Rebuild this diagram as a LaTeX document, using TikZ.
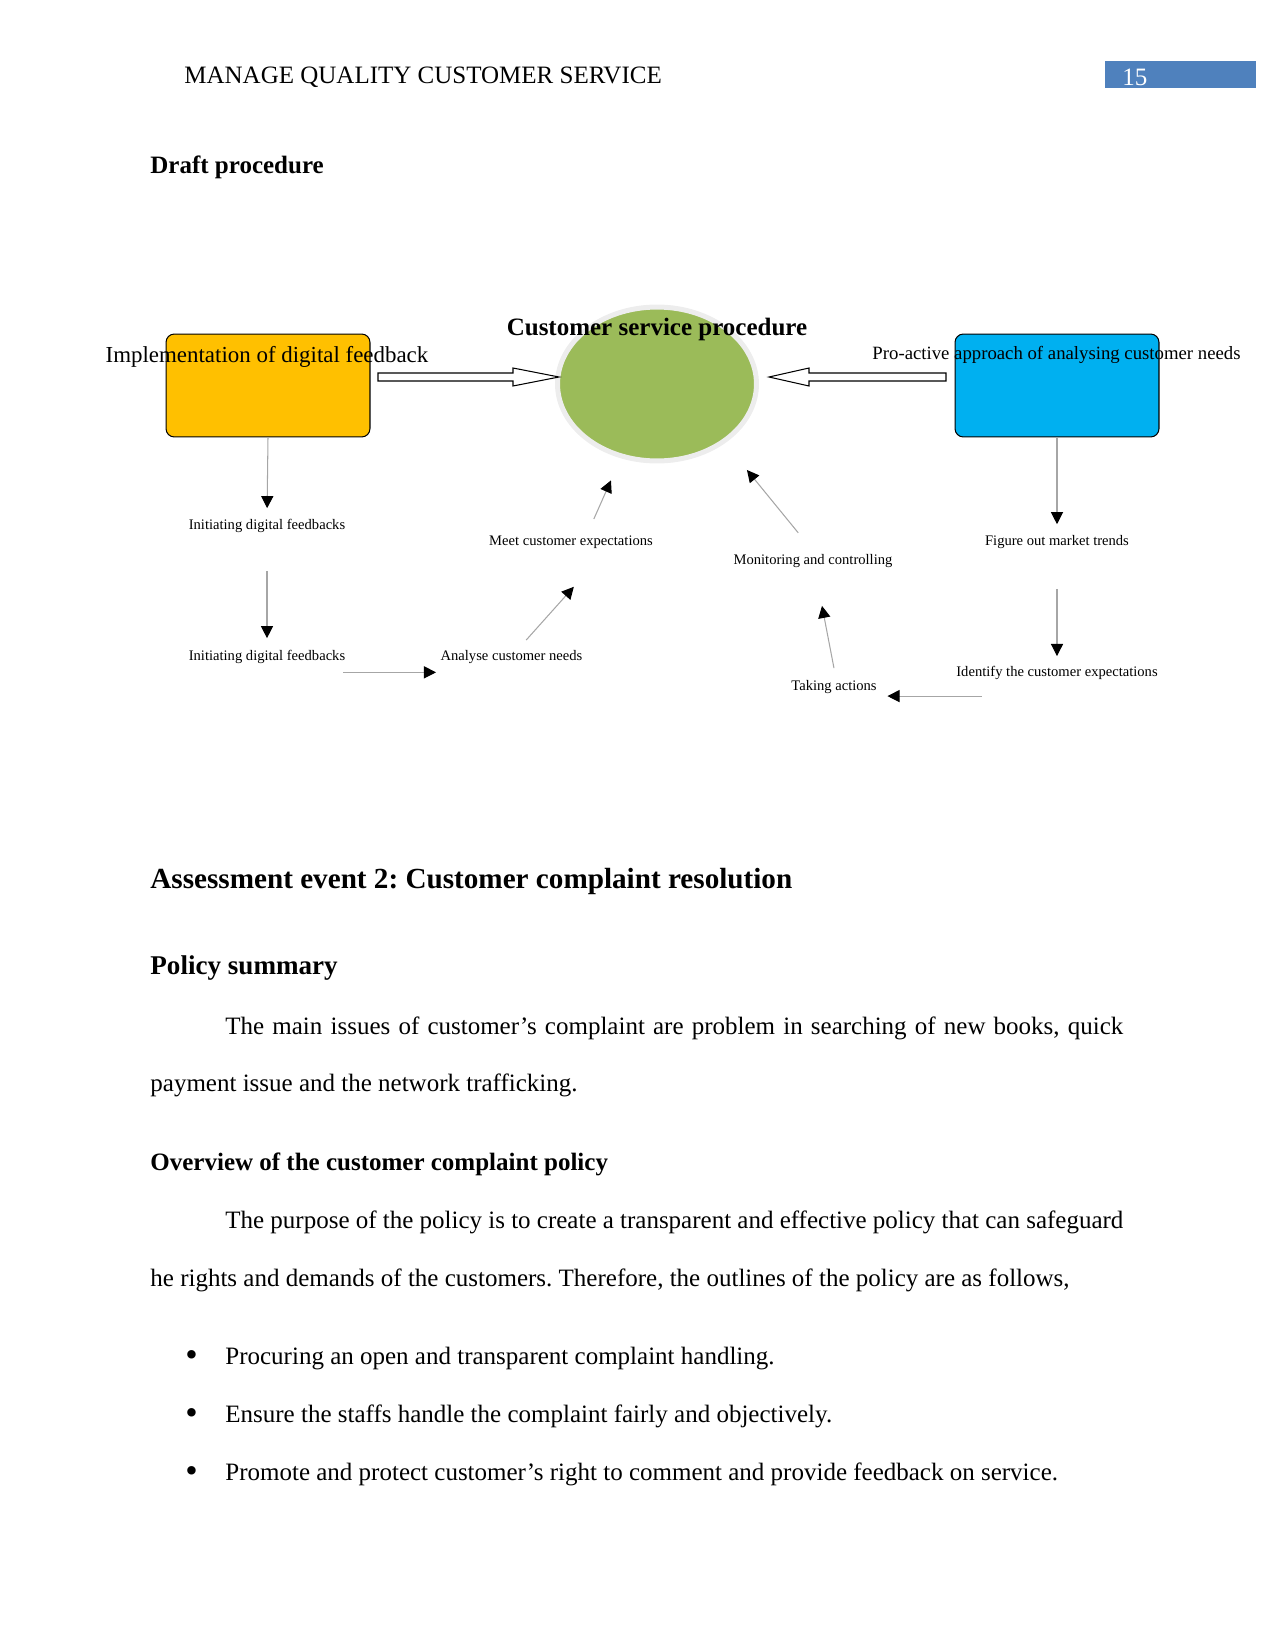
\documentclass[tikz,border=0pt]{standalone}
\usepackage{fontspec}
\setmainfont{Liberation Serif}
\usetikzlibrary{arrows.meta, positioning, shapes.geometric}
\definecolor{feedyellow}{HTML}{FFC000}
\definecolor{needblue}{HTML}{00B0F0}
\definecolor{procgreen}{HTML}{9BBB59}
\definecolor{pageblue}{HTML}{4F81BD}
\frenchspacing

\begin{document}
\begin{tikzpicture}[x=0.48pt, y=-0.48pt, >={Triangle[length=5.8pt, width=5.8pt, color=black]},
  steplabel/.style={font=\fontsize{7}{8}\selectfont, inner sep=1pt, text height=5.2pt, text depth=1.6pt, yshift=-1.2pt},
  flow/.style={->, black!35, line width=0.5pt},
  block/.style={draw=black, line width=0.5pt, rounded corners=4pt, minimum width=97.9pt, minimum height=49.4pt},
  bodytext/.style={anchor=west, inner sep=0pt, font=\fontsize{12}{14}\selectfont, yshift=-1.2pt},
  fatarrow/.style={draw=black, fill=white, line width=0.5pt}]
  \useasboundingbox (0,0) rectangle (1275,1651);
  \node[bodytext] (runhead) at (184,75) {MANAGE QUALITY CUSTOMER SERVICE};
  \fill[pageblue] (1105,61) rectangle (1256,88);
  \node[bodytext, text=white] (pagenum) at (1122,75) {15};
  \node[bodytext, font=\bfseries\fontsize{12}{14}\selectfont] (draft) at (150,165) {Draft procedure};

  \node[block, fill=feedyellow] (digital) at (268,385.5) {};
  \node[block, fill=needblue] (proactive) at (1057,385.5) {};
  \node[ellipse, draw=black!7, line width=2.4pt, fill=procgreen, inner sep=0pt, minimum width=95.5pt, minimum height=73.9pt] (proc) at (657,384) {};
  \node[font=\fontsize{11}{13}\selectfont, inner sep=0pt] (digitallbl) at (267,356.5) {Implementation of digital feedback};
  \node[font=\fontsize{9}{11}\selectfont, inner sep=0pt] (proactivelbl) at (1056.5,354.5) {Pro-active approach of analysing customer needs};
  \node[font=\bfseries\fontsize{12}{14}\selectfont, inner sep=0pt] (proclbl) at (657,329.5) {Customer service procedure};
  \draw[fatarrow] (378,373) -- (513,373) -- (513,368) -- (559,377) -- (513,386) -- (513,381) -- (378,381) -- cycle;
  \draw[fatarrow] (946,373) -- (809,373) -- (809,368) -- (769,377) -- (809,386) -- (809,381) -- (946,381) -- cycle;

  \node[steplabel] (init1) at (267,523) {Initiating digital feedbacks};
  \node[steplabel] (init2) at (267,654) {Initiating digital feedbacks};
  \node[steplabel] (analyse) at (511.5,654) {Analyse customer needs};
  \node[steplabel] (meet) at (571,539) {Meet customer expectations};
  \node[steplabel] (trends) at (1057,539) {Figure out market trends};
  \node[steplabel] (identify) at (1057,670) {Identify the customer expectations};
  \node[steplabel] (taking) at (834,684) {Taking actions};
  \node[steplabel] (monitor) at (813,558) {Monitoring and controlling};

  \draw[flow, shorten >=3.7pt] (digital.south) -- (init1.north);
  \draw[flow, shorten <=17.2pt, shorten >=4.2pt] (init1.south) -- (init2.north);
  \draw[flow, shorten >=1pt] ([xshift=-2pt, yshift=-3pt]init2.south east) -- ([yshift=-3pt]analyse.south west);
  \draw[flow, shorten <=4.4pt, shorten >=23pt] ([xshift=4.1pt]analyse.north) -- ([xshift=16.7pt]meet.south);
  \draw[flow, shorten <=6.8pt, shorten >=11.6pt] ([xshift=8.2pt]meet.north) -- (proc.244);
  \draw[flow, shorten >=3.7pt] (proactive.south) -- (trends.north);
  \draw[flow, shorten <=18.1pt, shorten >=3.3pt] (trends.south) -- (identify.north);
  \draw[flow, shorten >=4pt] ([xshift=13.4pt]identify.west |- taking.south east) -- (taking.south east);
  \draw[flow, shorten <=4.3pt, shorten >=17.5pt] ([xshift=0.8pt]taking.north) -- ([xshift=1pt]monitor.south);
  \draw[flow, shorten <=11.2pt, shorten >=16.6pt] (monitor.north) -- (proc.-41);

  \node[bodytext, font=\bfseries\fontsize{14}{17}\selectfont] (event) at (150,879) {Assessment event 2: Customer complaint resolution};
  \node[bodytext, font=\bfseries\fontsize{13}{16}\selectfont] (policy) at (150,966) {Policy summary};
  \node[bodytext] (issues1) at (225,1026) {\makebox[431pt][s]{The main issues of customer’s complaint are problem in searching of new books, quick}};
  \node[bodytext] (issues2) at (150,1083) {payment issue and the network trafficking.};
  \node[bodytext, font=\bfseries\fontsize{12}{14}\selectfont] (overview) at (150,1162) {Overview of the customer complaint policy};
  \node[bodytext] (purpose1) at (225,1220) {\makebox[431pt][s]{The purpose of the policy is to create a transparent and effective policy that can safeguard}};
  \node[bodytext] (purpose2) at (150,1278) {he rights and demands of the customers. Therefore, the outlines of the policy are as follows,};
  \foreach \y/\txt [count=\i] in {1356/Procuring an open and transparent complaint handling.,
      1414/Ensure the staffs handle the complaint fairly and objectively.,
      1472/Promote and protect customer’s right to comment and provide feedback on service.} {
    \node[bodytext, font=\fontsize{17}{17}\selectfont] (dot\i) at (185,\y) {•};
    \node[bodytext] (point\i) at (225,\y) {\txt};
  }
\end{tikzpicture}
\end{document}
